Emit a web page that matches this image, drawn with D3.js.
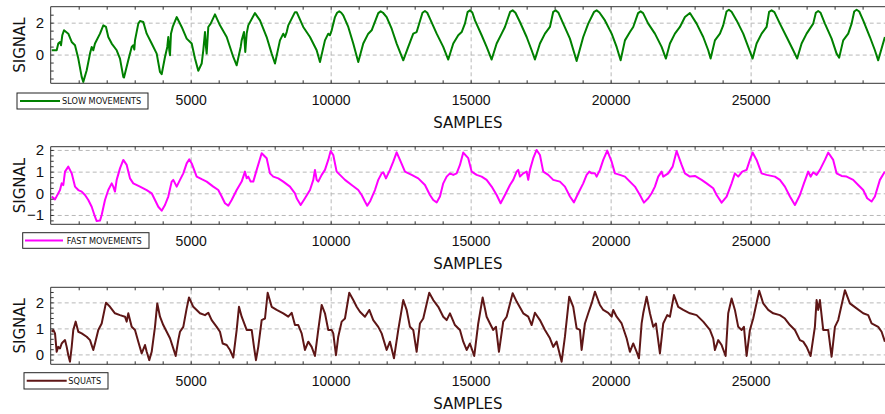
<!DOCTYPE html>
<html lang="en">
<head>
<meta charset="utf-8">
<title>Signals</title>
<script src="https://d3js.org/d3.v7.min.js"></script>
<style>
  body { margin: 0; background: #fff; }
  svg { display: block; font-family: 'DejaVu Sans', sans-serif; }
  .grid line { stroke: #b8b8b8; stroke-dasharray: 4,3; }
  .grid path, .ticks path, .labels path, .labels line { display: none; }
  .ticks line { stroke: #333; }
  .labels text { font-size: 14px; fill: #111; }
  .series { fill: none; stroke-width: 2px; stroke-linejoin: round; }
  .frame { stroke: #333; stroke-width: 1px; }
</style>
</head>
<body>
<div id="chart"></div>
<script>
// sample positions and signal values
var slowX = [36,214,271,332,368,414,475,629,750,868,986,1107,1164,1286,1404,1464,1521,1582,1761,1879,
  1975,2057,2179,2357,2475,2593,2618,2771,2893,2950,2986,3011,3129,3189,3307,3429,3607,3786,3904,3964,
  4082,4164,4200,4236,4261,4296,4357,4500,4679,4857,5036,5154,5271,5393,5450,5511,5546,5571,5629,5714,
  5868,6046,6286,6521,6643,6786,6821,6904,6950,7000,7057,7296,7475,7714,7893,8011,8189,8307,8368,8429,
  8486,8725,
  8786,9021,9261,9500,9618,9796,9914,9975,10036,10154,10230,10307,10380,10450,10629,10807,10986,11164,11343,11464,
  11700,11786,11870,12000,12179,12357,12593,12771,12950,13071,13280,13368,13450,13546,13786,14021,14200,14379,14557,14679,
  14796,14890,14975,15060,15154,15393,15571,15750,15929,16107,16225,16410,16500,16600,16761,17000,17179,17296,17475,17654,
  17832,17950,18036,18130,18307,18546,18786,19021,19200,
  19410,19500,19600,19796,20036,20214,20357,20511,20689,20807,20980,21071,21160,21343,21582,21821,21975,22118,22296,22475,
  22654,22832,23071,23307,23486,23571,23725,23904,24021,24140,24225,24320,24500,24736,24914,25071,25214,25393,25571,25660,
  25750,25850,26046,26286,26521,26664,26821,27000,27236,27330,27414,27500,27654,27893,28071,28164,28307,28486,28607,28700,
  28786,28880,29021,29261,29439,29557,29796];
var slowY = [0.27,0.27,0.69,0.79,0.58,1.21,1.52,1.31,0.79,0.58,-0.25,-1.40,-1.71,-0.98,0.06,0.48,0.27,0.69,1.31,1.83,
  1.73,1.10,0.69,0.27,-0.25,-1.40,-1.44,-0.36,0.48,0.58,0.31,0.89,1.94,2.10,2.04,1.31,0.69,0.06,-1.09,-1.23,
  -0.15,0.48,1.10,0.27,-0.04,1.31,1.73,2.35,1.73,1.00,0.69,-0.25,-1.02,-0.56,0.27,1.41,0.48,0.06,1.73,1.94,
  2.52,1.83,1.10,-0.15,-0.67,0.48,0.89,1.41,0.16,1.31,1.83,2.60,2.14,1.10,0.06,-0.56,0.89,1.31,1.10,1.41,
  1.83,2.66,
  2.66,1.73,1.10,0.27,-0.46,0.89,1.31,1.21,1.52,2.35,2.62,2.71,2.62,2.46,1.73,0.69,-0.46,0.69,1.31,1.52,
  2.60,2.71,2.62,2.35,1.62,0.69,-0.36,0.48,1.31,1.41,2.62,2.73,2.62,2.25,1.31,0.48,-0.31,0.69,1.21,1.41,
  1.94,2.66,2.77,2.64,2.14,1.21,0.48,-0.31,0.69,1.31,1.73,2.68,2.77,2.62,2.04,1.10,0.27,-0.31,0.69,1.31,
  1.73,2.68,2.77,2.64,1.94,1.00,-0.40,1.10,1.94,
  2.68,2.77,2.64,2.14,1.31,0.48,-0.36,0.89,1.41,1.73,2.60,2.71,2.60,1.94,1.31,0.48,-0.25,0.69,1.31,1.73,
  2.35,2.60,1.94,1.10,0.27,-0.25,0.89,1.31,1.83,2.70,2.81,2.68,2.14,1.31,0.48,-0.25,0.69,1.31,1.73,2.68,
  2.77,2.66,1.94,1.10,0.27,-0.25,0.69,1.31,1.94,2.62,2.73,2.62,1.94,1.00,0.06,-0.19,0.89,1.31,1.94,2.70,
  2.81,2.70,2.14,1.10,0.27,-0.36,1.10];

var fastX = [36,154,271,332,393,450,511,629,750,868,986,1107,1225,1343,1464,1582,1643,1761,1821,1939,
  2057,2179,2236,2296,2357,2475,2593,2714,2832,2950,3189,3429,3607,3725,3843,3964,4082,4200,4321,4379,
  4500,4618,4736,4857,4950,5036,5214,5393,5571,5807,5986,6107,6225,6343,6464,6643,6821,6939,7000,7057,
  7143,7236,7357,7536,7714,7832,7950,8129,8307,8546,8725,
  8786,8929,9082,9261,9379,9439,9500,9557,9679,9796,9914,10000,10093,10214,10332,10511,10750,10986,11107,11225,
  11307,11404,11582,11700,11821,11879,11975,12118,12236,12357,12475,12654,12893,13129,13368,13546,13664,13786,13904,14021,
  14143,14261,14379,14500,14618,14736,14914,15036,15214,15393,15571,15750,15929,16071,16225,16404,16521,16643,16700,16761,
  16879,17000,17057,17118,17236,17357,17475,17593,17771,17950,18189,18368,18546,18689,18843,19021,
  19143,19236,19321,19439,19500,19618,19736,19879,20036,20154,20332,20511,20689,20868,21046,21189,21343,21464,21582,21700,
  21821,21879,22057,22214,22357,22536,22654,22832,23011,23250,23429,23664,23786,23964,24143,24321,24439,24557,24700,24857,
  24975,25071,25214,25393,25571,25868,26046,26225,26404,26582,26761,26904,27057,27143,27236,27357,27475,27654,27771,27950,
  28071,28250,28429,28664,28843,29021,29164,29321,29439,29618,29796];
var fastY = [-0.15,-0.28,0.00,0.15,0.46,0.38,1.00,1.23,0.92,0.31,0.15,0.08,-0.08,-0.31,-0.62,-1.08,-1.28,-1.26,-1.00,-0.31,
  0.15,0.46,0.31,0.08,0.62,1.15,1.54,1.31,0.69,0.46,0.31,0.15,0.00,-0.31,-0.62,-0.80,-0.54,-0.15,0.54,0.62,
  0.31,0.62,0.92,1.38,1.57,1.38,0.77,0.65,0.54,0.31,0.15,-0.15,-0.46,-0.57,-0.31,0.15,0.54,1.00,0.69,0.77,
  0.54,0.54,1.08,1.85,1.62,0.92,0.77,0.69,0.54,0.31,0.00,
  -0.23,-0.54,-0.23,0.15,0.62,1.08,0.62,0.54,0.85,1.08,1.54,1.95,1.77,1.00,0.85,0.62,0.38,0.15,-0.08,-0.38,
  -0.57,-0.38,0.15,0.62,0.92,0.97,0.69,1.08,1.46,1.89,1.54,1.00,0.85,0.69,0.38,-0.08,-0.31,-0.42,-0.15,0.46,
  0.77,0.92,0.85,0.92,1.31,1.88,1.62,1.00,0.85,0.77,0.62,0.31,-0.08,-0.46,-0.08,0.38,0.62,1.00,1.08,0.77,
  0.92,1.00,0.62,1.08,1.62,2.00,1.77,1.00,0.85,0.62,0.54,0.31,-0.15,-0.42,0.00,0.46,
  0.85,1.00,0.92,0.92,0.77,1.08,1.54,1.97,1.46,0.92,0.85,0.77,0.54,0.31,-0.08,-0.43,-0.23,0.00,0.31,0.77,
  1.00,0.77,0.92,1.23,1.95,1.31,0.92,0.77,0.80,0.62,0.46,0.23,-0.08,-0.43,-0.15,0.46,0.92,0.77,1.00,1.08,
  1.54,1.88,1.54,0.92,0.85,0.77,0.62,0.31,-0.15,-0.54,-0.08,0.46,1.00,0.77,0.97,0.85,1.08,1.54,1.88,1.54,
  0.92,0.80,0.77,0.62,0.38,0.15,-0.23,-0.38,-0.15,0.62,1.00];

var squatX = [36,95,154,214,271,332,393,450,511,571,629,689,750,807,893,986,1107,1286,1404,1521,
  1582,1700,1821,1975,2118,2296,2475,2654,2714,2771,2893,3011,3129,3250,3368,3429,3521,3607,3725,3807,
  3904,4021,4143,4261,4379,4464,4557,4618,4736,4857,4939,5093,5332,5511,5629,5750,5929,6046,6143,6286,
  6404,6521,6643,6725,6821,7000,7179,7261,7332,7414,7536,7654,7750,7893,8071,8307,8486,8607,8725,8843,
  8964,9082,9200,9321,9439,9557,9679,9796,9914,10036,10093,10189,10271,10393,10511,10664,10807,10929,11046,11225,
  11379,11521,11700,11821,12000,12118,12261,12414,12593,12714,12832,12950,13071,13189,13307,13521,13664,13843,14021,14143,
  14261,14439,14618,14736,14857,14975,15129,15271,15429,15571,15689,15807,15904,16011,16164,16286,16500,16643,16879,17057,
  17179,17296,17475,17654,17832,17950,18071,18250,18368,18521,18664,18786,18904,18964,19082,
  19200,19321,19439,19618,19736,19914,20036,20093,20214,20393,20571,20629,20689,20807,20929,21011,21107,21164,21286,21404,
  21521,21618,21761,21879,22021,22118,22261,22414,22593,22832,23071,23307,23546,23664,23725,23843,23964,24107,24200,24321,
  24439,24557,24679,24761,24857,24975,25093,25307,25450,25629,25807,26046,26225,26404,26582,26761,26879,27000,27143,27296,
  27357,27414,27475,27593,27771,27893,28011,28129,28368,28546,28786,29021,29200,29321,29557,29679,29796];
var squatY = [0.87,0.94,0.81,0.10,0.29,0.23,0.42,0.49,0.55,0.29,-0.03,-0.28,0.29,0.94,1.26,0.87,0.81,0.68,0.55,0.17,
  0.42,0.94,1.19,1.99,1.83,1.58,1.51,1.45,1.26,1.58,1.06,0.94,0.49,0.04,0.36,0.10,-0.22,0.10,1.06,1.96,
  1.45,1.13,0.87,0.62,0.23,-0.06,0.55,0.87,1.06,1.77,2.19,1.83,1.58,1.51,1.60,1.32,1.06,0.87,0.42,0.36,
  0.17,-0.12,0.94,1.83,1.45,0.94,0.94,0.29,-0.22,0.29,1.32,1.38,2.37,1.83,1.71,1.58,1.45,1.60,1.13,1.13,
  0.81,0.17,0.49,0.29,-0.06,0.94,1.90,1.58,0.94,0.94,0.81,-0.03,0.68,1.26,1.38,2.37,2.09,1.83,1.64,1.45,
  1.71,1.32,1.06,0.81,0.17,0.49,-0.15,0.94,2.09,1.71,1.06,0.94,0.10,1.19,1.38,2.37,2.09,1.83,1.45,1.32,
  1.58,1.13,0.94,0.49,0.17,0.42,-0.06,1.19,2.19,1.45,1.19,0.94,1.06,0.10,1.26,1.45,2.35,2.03,1.58,1.45,
  1.13,1.60,1.32,0.94,0.62,0.29,0.49,-0.28,0.68,2.22,1.83,1.00,0.94,0.17,1.19,
  1.58,1.96,2.41,1.90,1.71,1.60,1.45,1.71,1.45,1.19,0.62,0.36,0.10,0.42,0.10,-0.15,1.19,1.58,2.22,1.58,
  1.06,1.19,0.04,1.19,1.51,1.45,2.28,1.83,1.71,1.58,1.51,1.26,0.94,0.62,0.17,0.55,0.36,-0.06,1.58,2.15,
  1.71,1.06,0.94,1.06,-0.06,0.94,1.38,2.45,1.96,1.71,1.58,1.51,1.38,1.13,0.94,0.55,0.49,0.29,-0.06,1.06,
  2.09,1.71,2.09,0.94,0.94,-0.09,1.06,1.32,2.47,1.96,1.77,1.58,1.51,1.19,1.06,0.87,0.49];

var seriesNames = ["SLOW MOVEMENTS", "FAST MOVEMENTS", "SQUATS"];
var xTickLabels = [5000, 10000, 15000, 20000, 25000];
var slowYTicks = [0, 2];
var fastYTicks = [-1, 0, 1, 2];
var squatYTicks = [0, 1, 2];

// layout of the three stacked panels
var W = 885, H = 414, left = 50.7, right = 885;
var panels = [
  {x: slowX, y: slowY, name: seriesNames[0], color: "#008000", top: 6.7, bottom: 83.3,
   dom: [-1.8, 3.0], yt: slowYTicks, minor: 0.5, leg: {x: 17, y: 93, w: 131, h: 16, l1: 20, l2: 60, tx: 62}},
  {x: fastX, y: fastY, name: seriesNames[1], color: "#ff00ff", top: 146.7, bottom: 224.3,
   dom: [-1.43, 2.15], yt: fastYTicks, minor: 0.25, leg: {x: 22.7, y: 232.7, w: 126.3, h: 15.6, l1: 25, l2: 63, tx: 66.7}},
  {x: squatX, y: squatY, name: seriesNames[2], color: "#5e1616", top: 287.3, bottom: 364.3,
   dom: [-0.38, 2.58], yt: squatYTicks, minor: 0.2, leg: {x: 24, y: 372.7, w: 84, h: 16.3, l1: 26.7, l2: 66.7, tx: 68.3}}
];

var svg = d3.select("#chart").append("svg")
    .attr("width", W).attr("height", H);
svg.append("rect").attr("width", W).attr("height", H).attr("fill", "#fff");

var x = d3.scaleLinear().domain([0, 29800]).range([left, right]);

panels.forEach(function(p, i) {
  var y = d3.scaleLinear().domain(p.dom).range([p.bottom, p.top]);
  var h = p.bottom - p.top;
  var g = svg.append("g");

  // dashed grid
  g.append("g").attr("class", "grid")
      .attr("transform", "translate(0," + p.bottom + ")")
      .call(d3.axisBottom(x).tickValues(xTickLabels).tickSize(-h).tickFormat(""));
  g.append("g").attr("class", "grid")
      .attr("transform", "translate(" + left + ",0)")
      .call(d3.axisLeft(y).tickValues(p.yt).tickSize(-(right - left)).tickFormat(""));

  // series line
  var pts = p.x.map(function(v, k) { return [v, p.y[k]]; });
  g.append("clipPath").attr("id", "clip" + i)
    .append("rect").attr("x", left).attr("y", p.top).attr("width", right - left).attr("height", h);
  g.append("path")
      .datum(pts)
      .attr("class", "series")
      .attr("clip-path", "url(#clip" + i + ")")
      .attr("stroke", p.color)
      .attr("d", d3.line().x(function(d) { return x(d[0]); }).y(function(d) { return y(d[1]); }));

  // small inward ticks
  var minorX = d3.range(1000, 30000, 1000);
  g.append("g").attr("class", "ticks")
      .attr("transform", "translate(0," + p.bottom + ")")
      .call(d3.axisBottom(x).tickValues(minorX).tickSize(-3).tickFormat(""));
  g.append("g").attr("class", "ticks")
      .attr("transform", "translate(0," + p.top + ")")
      .call(d3.axisTop(x).tickValues(minorX).tickSize(-3).tickFormat(""));
  var minorY = d3.range(Math.ceil(p.dom[0] / p.minor) * p.minor, p.dom[1], p.minor);
  g.append("g").attr("class", "ticks")
      .attr("transform", "translate(" + left + ",0)")
      .call(d3.axisLeft(y).tickValues(minorY).tickSize(-3).tickFormat(""));

  // frame (top, left, bottom)
  g.append("path").attr("class", "frame").attr("fill", "none")
      .attr("d", "M" + right + "," + p.top + "H" + left + "V" + p.bottom + "H" + right);

  // tick labels
  g.append("g").attr("class", "labels")
      .attr("transform", "translate(0," + p.bottom + ")")
      .call(d3.axisBottom(x).tickValues(xTickLabels).tickSize(0).tickPadding(12).tickFormat(d3.format("d")));
  g.append("g").attr("class", "labels")
      .attr("transform", "translate(" + (left - 6.5) + ",0)")
      .call(d3.axisLeft(y).tickValues(p.yt).tickSize(0).tickPadding(0).tickFormat(d3.format("d")))
      .selectAll("text").style("font-size", "15px");

  // axis titles
  g.append("text")
      .attr("x", (left + right) / 2).attr("y", p.bottom + 44.5)
      .attr("text-anchor", "middle").attr("font-size", 15).attr("fill", "#111")
      .text("SAMPLES");
  g.append("text")
      .attr("transform", "translate(24.5," + (p.top + h / 2) + ") rotate(-90)")
      .attr("text-anchor", "middle").attr("font-size", 15).attr("fill", "#111")
      .text("SIGNAL");

  // legend
  var L = p.leg;
  g.append("rect").attr("x", L.x).attr("y", L.y).attr("width", L.w).attr("height", L.h)
      .attr("fill", "#fff").attr("stroke", "#222").attr("stroke-width", 1);
  g.append("line").attr("x1", L.l1).attr("x2", L.l2)
      .attr("y1", L.y + L.h / 2).attr("y2", L.y + L.h / 2)
      .attr("stroke", p.color).attr("stroke-width", 2);
  g.append("text").attr("x", L.tx).attr("y", L.y + L.h / 2 + 3)
      .attr("font-size", 8.2).attr("fill", "#111")
      .text(p.name);
});
</script>
</body>
</html>
